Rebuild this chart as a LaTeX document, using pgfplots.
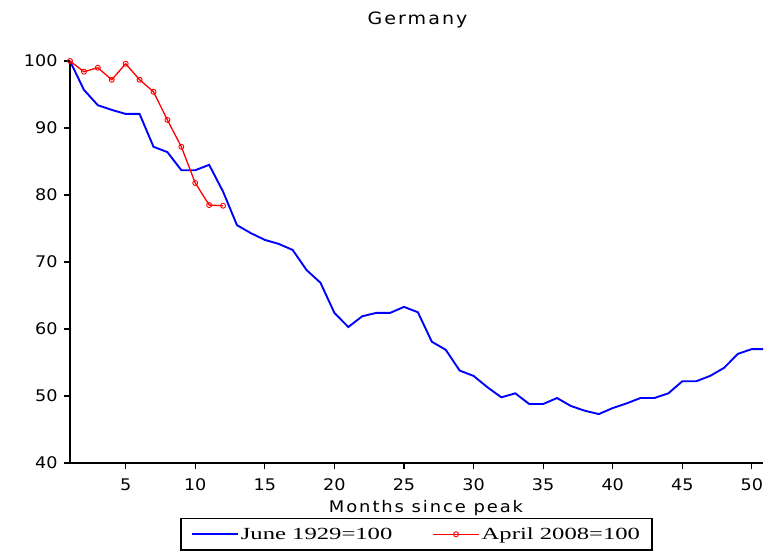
\documentclass[border=0pt]{standalone}
\usepackage{fontspec}
\setmainfont{DejaVu Sans}
\newfontfamily\tickfont[FakeStretch=1.1]{DejaVu Sans}
\newfontfamily\titlefont[FakeStretch=1.12,LetterSpace=12]{DejaVu Sans}
\newfontfamily\legfont[FakeStretch=1.45]{Liberation Serif}
\usepackage{pgfplots}
\pgfplotsset{compat=1.18}

\pgfplotstableread{
m v
1 100
2 95.7
3 93.4
4 92.7
5 92.1
6 92.1
7 87.2
8 86.4
9 83.7
10 83.7
11 84.5
12 80.5
13 75.5
14 74.3
15 73.3
16 72.7
17 71.8
18 68.8
19 66.9
20 62.4
21 60.3
22 61.9
23 62.4
24 62.4
25 63.3
26 62.5
27 58.1
28 56.9
29 53.8
30 53.0
31 51.3
32 49.8
33 50.4
34 48.8
35 48.8
36 49.7
37 48.5
38 47.8
39 47.3
40 48.2
41 48.9
42 49.7
43 49.7
44 50.4
45 52.2
46 52.2
47 53.0
48 54.2
49 56.3
50 57.0
51 57.0
}\june

\pgfplotstableread{
m v
1 100
2 98.4
3 99.0
4 97.2
5 99.6
6 97.2
7 95.4
8 91.2
9 87.2
10 81.8
11 78.5
12 78.4
}\april

\begin{document}
\begin{tikzpicture}
\path[use as bounding box] (0pt,0pt) rectangle (767pt,551pt);
\begin{axis}[
  at={(70pt,88pt)}, anchor=south west,
  scale only axis, width=693pt, height=402pt,
  xmin=1, xmax=50.8, ymin=40, ymax=100,
  axis lines=left, axis line style={-, line width=1.3pt, black},
  xtick={5,10,...,50}, ytick={40,50,...,100},
  tick align=outside, major tick length=6pt,
  tick style={line width=1.2pt, black},
  ticklabel style={font=\fontsize{16}{18}\tickfont},
  xticklabel style={yshift=-6pt},
  yticklabel style={xshift=-3pt},
  /pgf/number format/assume math mode=true,
  legend columns=2,
  legend style={at={(0.5,-0.137)}, anchor=north, draw=black, line width=1.2pt,
    font=\fontsize{17}{20}\legfont,
    /tikz/every even column/.append style={column sep=38pt},
    inner xsep=10pt, inner ysep=7pt},
  legend image code/.code={\draw[mark repeat=2,mark phase=2,#1] plot coordinates {(0pt,0pt) (23pt,0pt) (46pt,0pt)};},
]
\addplot[blue, line width=1.9pt, no markers] table[x=m,y=v] {\june};
\addlegendentry{June 1929=100}
\addplot[red, line width=1.3pt, mark=o, mark size=2.5pt, mark options={solid, fill=white, line width=0.9pt}] table[x=m,y=v] {\april};
\addlegendentry{April 2008=100}
\end{axis}
\node[anchor=base, font=\fontsize{17}{20}\titlefont] at (417.5pt,526pt) {Germany};
\node[anchor=base, font=\fontsize{16}{18}\titlefont] at (426pt,39pt) {Months since peak};
\end{tikzpicture}
\end{document}
